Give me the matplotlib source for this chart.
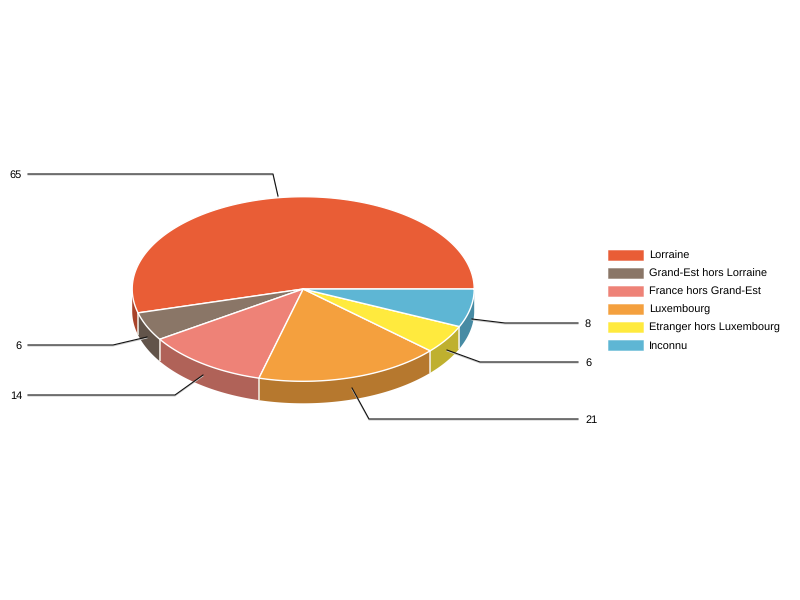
import numpy as np
import matplotlib
matplotlib.use("Agg")
import matplotlib.pyplot as plt
from matplotlib.colors import to_rgba
from matplotlib.patches import Polygon, Rectangle

plt.rcParams["font.family"] = ["Liberation Sans", "DejaVu Sans"]
plt.rcParams["text.hinting"] = "no_hinting"
plt.rcParams["text.hinting_factor"] = 1

categories = ["Lorraine", "Grand-Est hors Lorraine", "France hors Grand-Est",
              "Luxembourg", "Etranger hors Luxembourg", "Inconnu"]
values = [65, 6, 14, 21, 6, 8]
colors = ["#E95D36", "#8A7667", "#EE8277", "#F4A03E", "#FFEA3E", "#5EB6D4"]
side_colors = ["#A8432A", "#62544A", "#B06258", "#B6782E", "#BFB02F", "#478BA4"]

# pie geometry in pixels
cx, cy = 303.2, 289
rx, ry = 171, 92.3
depth = 22

# leader line start and elbow, same order as values
anchors = [(278, 196), (147, 337), (203, 375), (352, 388), (447, 350), (472, 319)]
elbows = [(273, 174), (113, 345), (175, 395), (369, 419), (480, 362), (505, 323)]
line_end_left = 28
line_end_right = 578


def rim(a0, a1):
    t = np.radians(np.linspace(a0, a1, max(int(abs(a1 - a0) * 2), 2)))
    return np.column_stack([cx + rx * np.cos(t), cy - ry * np.sin(t)])


fig = plt.figure(figsize=(8, 6), dpi=100)
ax = fig.add_axes([0, 0, 1, 1])
ax.set_xlim(0, 800)
ax.set_ylim(600, 0)
ax.axis("off")

angles = np.concatenate([[0], np.cumsum(values) / np.sum(values) * 360])

# side walls, only the front half shows
for i in range(len(values)):
    a0, a1 = max(angles[i], 180), angles[i + 1]
    if a1 <= a0:
        continue
    top = rim(a0, a1)
    bottom = top[::-1] + [0, depth]
    ax.add_patch(Polygon(np.vstack([top, bottom]), closed=True,
                         facecolor=side_colors[i], edgecolor="none", zorder=2))
    # white seam at the wedge border
    if angles[i] >= 180:
        ax.plot([top[0, 0], top[0, 0]], [top[0, 1], top[0, 1] + depth],
                color="#f4f0e8", lw=1.1, zorder=3, solid_capstyle="butt")

# top face
for i in range(len(values)):
    pts = np.vstack([[cx, cy], rim(angles[i], angles[i + 1])])
    ax.add_patch(Polygon(pts, closed=True, facecolor=colors[i],
                         edgecolor="white", linewidth=1.0, joinstyle="round", zorder=4))

# leader lines and labels
for i, v in enumerate(values):
    sx, sy = anchors[i]
    ex, ey = elbows[i]
    left = ex < cx
    end = line_end_left if left else line_end_right
    xs = [sx, ex, end]
    ys = [sy, ey, ey]
    ax.plot(xs, np.array(ys) + 1, color="#c8c8c8", lw=0.72, zorder=5)
    ax.plot(xs, ys, color="#111111", lw=0.8, zorder=6)
    ax.text(22 if left else 585, ey + 1, str(v), ha="right" if left else "left",
            va="center", fontsize=7.92, color="black", zorder=7)

# legend
for i, name in enumerate(categories):
    y = 255 + 18 * i
    ax.add_patch(Rectangle((608, y - 5), 35, 10, facecolor=colors[i],
                           edgecolor=to_rgba(colors[i], 0.45), linewidth=0.7, zorder=4))
    ax.text(649, y + 1, name, ha="left", va="center", fontsize=7.92, color="black")

fig.savefig("out.png", dpi=100, facecolor="white")
